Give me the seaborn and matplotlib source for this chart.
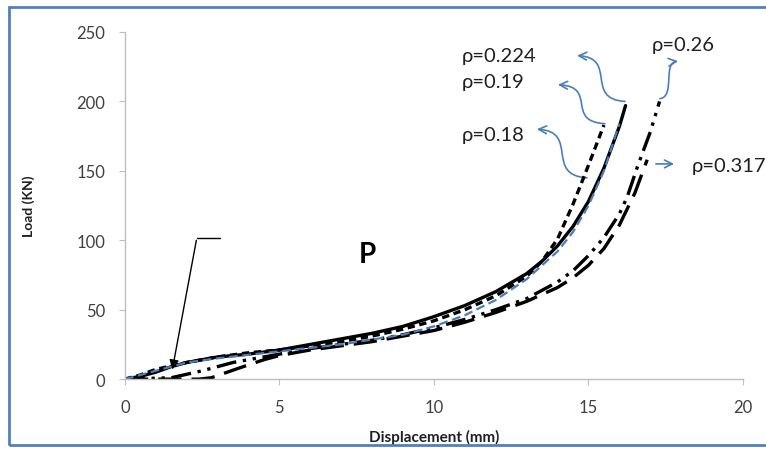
import numpy as np
import pandas as pd
import matplotlib
matplotlib.use("Agg")
import matplotlib.pyplot as plt
import seaborn as sns
from matplotlib.path import Path
from matplotlib.patches import FancyArrowPatch, Rectangle

# ---------------- data ----------------
x_0224 = [0, 0.5, 1, 1.5, 2, 3, 4, 5, 6, 7, 8, 9, 10, 11, 12, 13, 13.5, 14, 14.5, 15, 15.5, 16, 16.2]
y_0224 = [0, 2, 5, 9, 12, 16, 18, 21, 25, 29, 33, 38, 45, 53, 63, 76, 85, 96, 110, 128, 152, 182, 197]

x_019 = [0, 0.5, 1, 2, 3, 4, 5, 6, 7, 8, 9, 10, 11, 12, 13, 13.5, 14, 14.5, 15, 15.5]
y_019 = [0, 3, 7, 12, 16, 19, 21, 24, 27, 31, 36, 42, 50, 60, 74, 85, 101, 126, 154, 183]

x_018 = [0, 1, 2, 3, 5, 7, 9, 10, 11, 12, 13, 14, 14.5, 15, 15.5, 16]
y_018 = [0, 6, 12, 15, 20, 25, 32, 38, 46, 57, 72, 92, 106, 125, 150, 184]

x_026 = [0, 1.5, 2.5, 3.5, 5, 6, 7, 8, 9, 10, 11, 12, 13, 14, 14.5, 15, 15.5, 16, 16.25, 16.6, 17.0, 17.3]
y_026 = [0, 1, 6, 12, 18, 22, 25, 28, 32, 37, 43, 50, 58, 70, 78, 89, 102, 119, 131, 154, 178, 200]

x_0317 = [0, 2.4, 2.8, 3.7, 4.5, 5, 6, 7, 8, 9, 10, 11, 12, 13, 14, 14.5, 15, 15.5, 16, 16.5, 16.9]
y_0317 = [0, 0, 1, 8, 14, 17, 21, 24, 27, 31, 35, 41, 48, 56, 66, 73, 82, 94, 111, 134, 158]

labels = ["ρ=0.224", "ρ=0.19", "ρ=0.18", "ρ=0.26", "ρ=0.317"]
label_pos = [(10.9, 233), (10.9, 214), (10.9, 176), (17.05, 241), (18.35, 154)]
arrow_start = [(16.18, 200), (15.53, 184), (14.95, 145), (17.31, 202), (17.09, 155)]
arrow_end = [(14.63, 233), (14.01, 212), (13.33, 180), (17.9, 229), (17.86, 155)]
arrow_curved = [True, True, True, True, False]

xticks = [0, 5, 10, 15, 20]
yticks = [0, 50, 100, 150, 200, 250]

pointer_line = [(3.07, 102), (2.33, 102)]
pointer_tip = (1.52, 5)
p_label_pos = (7.86, 90)

# ---------------- styling ----------------
sns.set_theme(style="white")
plt.rcParams["font.family"] = ["Lato", "DejaVu Sans"]

fig = plt.figure(figsize=(7.66, 4.52), dpi=100)
ax = fig.add_axes([0.163, 0.159, 0.807, 0.768])

series = [
    (x_0224, y_0224, "black", "-", 2.4),
    (x_019, y_019, "black", (0, (2.2, 1.4)), 2.4),
    (x_026, y_026, "black", (0, (6, 2, 1, 2, 1, 2)), 2.4),
    (x_0317, y_0317, "black", (0, (7, 3)), 2.4),
    (x_018, y_018, "#4A7EBB", (0, (4, 2)), 1.6),
]
for xs, ys, c, ls, lw in series:
    df = pd.DataFrame({"x": xs, "y": ys})
    sns.lineplot(data=df, x="x", y="y", ax=ax, color=c, linestyle=ls, lw=lw, sort=False)

ax.set_xlim(0, 20)
ax.set_ylim(0, 250)
ax.set_xticks(xticks)
ax.set_yticks(yticks)
ax.tick_params(axis="both", which="major", length=4, width=0.8, color="#BFBFBF",
               labelsize=12, labelcolor="#404040", direction="out")
ax.tick_params(axis="x", pad=10)
ax.tick_params(axis="y", pad=10)
ax.tick_params(left=True, bottom=True)
for s in ["top", "right"]:
    ax.spines[s].set_visible(False)
for s in ["left", "bottom"]:
    ax.spines[s].set_color("#BFBFBF")
    ax.spines[s].set_linewidth(1.0)

ax.set_xlabel("Displacement (mm)", fontsize=11, fontweight="bold", color="#202020", labelpad=10)
ax.set_ylabel("Load (KN)", fontsize=10, fontweight="bold", color="#202020", labelpad=30)

# rho labels and blue arrows
for lab, (tx, ty) in zip(labels, label_pos):
    ax.text(tx, ty, lab, fontsize=14.5, color="#202020", va="center", ha="left", clip_on=False)

for (sx, sy), (ex, ey), curved in zip(arrow_start, arrow_end, arrow_curved):
    if not curved:
        arr = FancyArrowPatch((sx, sy), (ex, ey), arrowstyle="->", mutation_scale=14,
                              color="#4A7EBB", lw=1.2)
    else:
        dx, dy = ex - sx, ey - sy
        p1 = (sx + dx * 0.85, sy + dy * 0.05)
        p2 = (sx + dx * 0.15, sy + dy * 0.95)
        verts = [(sx, sy), p1, p2, (ex, ey)]
        path = Path(verts, [Path.MOVETO, Path.CURVE4, Path.CURVE4, Path.CURVE4])
        arr = FancyArrowPatch(path=path, arrowstyle="->", mutation_scale=14,
                              color="#4A7EBB", lw=1.2)
    arr.set_clip_on(False)
    ax.add_patch(arr)

# black pointer
ax.plot([p[0] for p in pointer_line], [p[1] for p in pointer_line], color="black", lw=1.0)
ax.annotate("", xy=pointer_tip, xytext=pointer_line[1],
            arrowprops=dict(arrowstyle="-|>", color="black", lw=1.0, mutation_scale=14))

ax.text(p_label_pos[0], p_label_pos[1], "P", fontsize=20, fontweight="bold",
        ha="center", va="center", color="black")

# blue frame around figure
fig.patches.append(Rectangle((0.012, 0.013), 1.05, 0.97, transform=fig.transFigure,
                             fill=False, edgecolor="#4F81BD", lw=2.0))

fig.savefig("out.png", dpi=100)
